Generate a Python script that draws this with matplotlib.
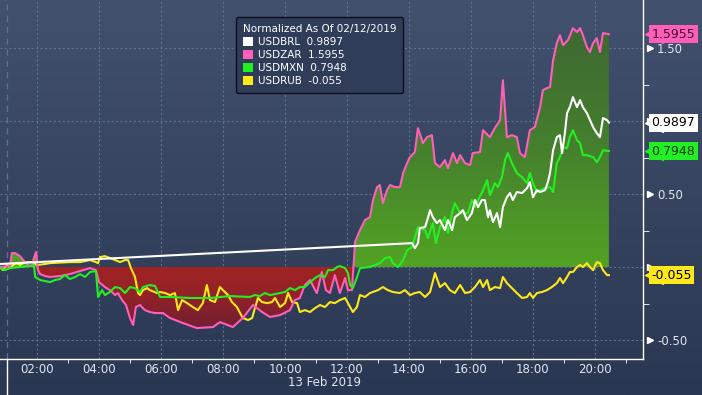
import numpy as np
import matplotlib.pyplot as plt
from matplotlib.patches import Patch
from matplotlib.colors import LinearSegmentedColormap
from matplotlib.transforms import blended_transform_factory, offset_copy

# normalized moves, 13 Feb 2019, x = hour of day
zar_t = [0.81, 1.13, 1.19, 1.29, 1.45, 1.61, 1.71, 1.84, 1.90, 1.97, 2.03, 2.10, 2.26, 2.42, 2.74,
         3.06, 3.39, 3.71, 3.90, 4.00, 4.19, 4.35, 4.52, 4.61, 4.74, 4.87, 5.00, 5.10, 5.19, 5.32,
         5.48, 5.64, 5.81, 6.06, 6.29, 6.71, 7.16, 7.68, 7.90, 8.32, 8.64, 8.97, 9.26, 9.52, 9.84,
         10.16, 10.32, 10.48, 10.64, 10.81, 10.97, 11.03, 11.19, 11.32, 11.45, 11.61, 11.77, 11.94,
         12.03, 12.16, 12.26, 12.35, 12.42, 12.58, 12.74, 12.84, 12.97, 13.06, 13.16, 13.29, 13.39,
         13.55, 13.71, 13.81, 13.94, 14.03, 14.19, 14.29, 14.45, 14.58, 14.74, 14.84, 15.00, 15.16,
         15.26, 15.42, 15.55, 15.65, 15.81, 15.97, 16.06, 16.29, 16.39, 16.61, 16.77, 16.94, 17.03,
         17.16, 17.32, 17.48, 17.58, 17.74, 17.90, 18.06, 18.23, 18.32, 18.45, 18.55, 18.65, 18.77,
         18.87, 18.97, 19.13, 19.29, 19.42, 19.52, 19.61, 19.74, 19.84, 19.94, 20.06, 20.16, 20.26,
         20.45]
zar = [0.000, 0.007, 0.096, 0.096, 0.075, 0.034, 0.014, 0.007, 0.062, 0.103, -0.021, -0.048, -0.062,
       -0.068, -0.062, -0.048, -0.027, -0.007, -0.021, -0.103, -0.137, -0.158, -0.192, -0.178, -0.226,
       -0.260, -0.349, -0.397, -0.274, -0.260, -0.295, -0.308, -0.315, -0.315, -0.349, -0.384, -0.418,
       -0.411, -0.377, -0.411, -0.349, -0.260, -0.308, -0.342, -0.329, -0.295, -0.226, -0.212, -0.123,
       -0.089, -0.158, -0.178, -0.034, -0.158, -0.178, -0.055, -0.178, -0.075, -0.158, -0.158, 0.171,
       0.219, 0.253, 0.322, 0.342, 0.459, 0.548, 0.562, 0.438, 0.527, 0.562, 0.548, 0.548, 0.644,
       0.712, 0.753, 0.788, 0.952, 0.849, 0.890, 0.904, 0.712, 0.685, 0.733, 0.678, 0.781, 0.712,
       0.767, 0.712, 0.699, 0.781, 0.788, 0.938, 0.890, 0.952, 1.007, 1.281, 0.890, 0.904, 0.890,
       0.781, 0.753, 0.938, 0.959, 1.096, 1.212, 1.226, 1.233, 1.418, 1.534, 1.589, 1.521, 1.555,
       1.637, 1.610, 1.637, 1.589, 1.507, 1.473, 1.534, 1.568, 1.473, 1.603, 1.5955]

mxn_t = [0.81, 0.97, 1.13, 1.45, 1.77, 1.90, 1.94, 2.10, 2.42, 2.58, 2.74, 2.90, 3.06, 3.23, 3.39,
         3.55, 3.71, 3.90, 3.97, 4.10, 4.19, 4.35, 4.52, 4.68, 4.84, 5.00, 5.16, 5.32, 5.42, 5.64,
         5.81, 5.97, 6.29, 6.94, 7.58, 8.23, 8.87, 9.03, 9.19, 9.35, 9.52, 9.84, 10.00, 10.16, 10.32,
         10.48, 10.64, 10.81, 10.97, 11.13, 11.29, 11.39, 11.55, 11.68, 11.77, 11.94, 12.03, 12.10,
         12.19, 12.29, 12.42, 12.74, 13.06, 13.23, 13.39, 13.48, 13.65, 13.81, 13.94, 14.10, 14.29,
         14.35, 14.52, 14.61, 14.77, 14.87, 15.00, 15.16, 15.26, 15.39, 15.48, 15.65, 15.90, 16.03,
         16.13, 16.23, 16.39, 16.52, 16.61, 16.77, 16.87, 17.00, 17.10, 17.19, 17.32, 17.48, 17.65,
         17.81, 17.90, 18.00, 18.13, 18.23, 18.39, 18.55, 18.65, 18.77, 18.87, 18.97, 19.10, 19.19,
         19.29, 19.42, 19.52, 19.61, 19.74, 19.94, 20.06, 20.16, 20.26, 20.45]
mxn = [-0.007, -0.021, -0.007, 0.000, 0.007, 0.014, -0.068, -0.089, -0.103, -0.089, -0.082, -0.055,
       -0.082, -0.068, -0.048, -0.068, -0.034, -0.027, -0.205, -0.158, -0.192, -0.171, -0.137, -0.144,
       -0.178, -0.137, -0.144, -0.171, -0.137, -0.123, -0.130, -0.205, -0.205, -0.212, -0.212, -0.199,
       -0.205, -0.192, -0.199, -0.178, -0.192, -0.178, -0.171, -0.144, -0.158, -0.137, -0.137, -0.103,
       -0.075, -0.055, -0.068, -0.021, -0.021, 0.000, 0.007, -0.007, -0.041, -0.123, -0.144, -0.089,
       -0.007, 0.000, 0.027, 0.062, 0.068, 0.027, 0.000, 0.048, 0.116, 0.137, 0.274, 0.267, 0.253,
       0.199, 0.301, 0.164, 0.274, 0.342, 0.233, 0.370, 0.438, 0.370, 0.370, 0.459, 0.411, 0.459,
       0.527, 0.596, 0.493, 0.575, 0.548, 0.616, 0.733, 0.781, 0.712, 0.644, 0.616, 0.575, 0.644,
       0.575, 0.514, 0.527, 0.541, 0.548, 0.514, 0.712, 0.753, 0.822, 0.815, 0.890, 0.938, 0.870,
       0.849, 0.767, 0.767, 0.753, 0.719, 0.753, 0.801, 0.7948]

brl_t = [0.81, 14.10, 14.19, 14.29, 14.35, 14.52, 14.61, 14.68, 14.77, 14.90, 15.00, 15.16, 15.26,
         15.39, 15.48, 15.65, 15.74, 15.87, 16.03, 16.13, 16.23, 16.35, 16.45, 16.55, 16.61, 16.71,
         16.84, 16.94, 17.03, 17.16, 17.26, 17.35, 17.48, 17.65, 17.81, 17.90, 18.00, 18.13, 18.23,
         18.39, 18.48, 18.55, 18.65, 18.77, 18.87, 18.94, 19.03, 19.10, 19.19, 19.29, 19.42, 19.52,
         19.61, 19.74, 19.84, 19.94, 20.06, 20.16, 20.26, 20.39, 20.45]
brl = [0.021, 0.164, 0.130, 0.164, 0.267, 0.274, 0.336, 0.390, 0.342, 0.301, 0.322, 0.253, 0.322,
       0.253, 0.342, 0.370, 0.390, 0.322, 0.370, 0.459, 0.411, 0.459, 0.459, 0.342, 0.390, 0.308,
       0.370, 0.274, 0.411, 0.479, 0.507, 0.459, 0.514, 0.507, 0.541, 0.582, 0.479, 0.527, 0.514,
       0.527, 0.582, 0.644, 0.801, 0.890, 0.904, 0.781, 0.918, 1.055, 1.096, 1.164, 1.096, 1.144,
       1.096, 1.055, 1.007, 0.959, 0.918, 0.890, 1.021, 1.007, 0.9897]

rub_t = [0.81, 0.90, 1.03, 1.13, 1.23, 1.35, 1.45, 1.61, 1.87, 2.00, 2.26, 2.42, 3.06, 3.39, 3.71,
         3.90, 3.97, 4.03, 4.19, 4.35, 4.52, 4.68, 4.84, 4.94, 5.03, 5.16, 5.26, 5.32, 5.42, 5.55,
         5.64, 5.87, 5.97, 6.13, 6.29, 6.45, 6.55, 6.68, 6.84, 7.03, 7.19, 7.35, 7.48, 7.58, 7.74,
         7.90, 8.00, 8.16, 8.29, 8.45, 8.55, 8.64, 8.81, 8.94, 9.03, 9.13, 9.26, 9.42, 9.58, 9.68,
         9.84, 10.00, 10.10, 10.23, 10.39, 10.48, 10.64, 10.81, 10.97, 11.13, 11.29, 11.45, 11.61,
         11.77, 11.94, 12.10, 12.19, 12.32, 12.42, 12.58, 12.74, 13.00, 13.16, 13.32, 13.48, 13.71,
         13.87, 14.03, 14.19, 14.35, 14.52, 14.68, 14.84, 15.00, 15.16, 15.32, 15.48, 15.65, 15.81,
         15.97, 16.13, 16.29, 16.39, 16.52, 16.61, 16.77, 16.94, 17.03, 17.16, 17.32, 17.48, 17.65,
         17.81, 17.90, 18.00, 18.13, 18.29, 18.45, 18.61, 18.77, 18.87, 18.97, 19.10, 19.19, 19.29,
         19.42, 19.52, 19.61, 19.74, 19.84, 19.94, 20.06, 20.16, 20.26, 20.39, 20.45]
rub = [0.000, -0.021, 0.014, -0.007, 0.014, 0.027, 0.014, 0.034, 0.034, 0.014, 0.021, 0.027, 0.034,
       0.034, 0.048, 0.034, 0.027, 0.068, 0.075, 0.062, 0.048, 0.034, 0.048, 0.048, -0.007, -0.068,
       -0.178, -0.192, -0.158, -0.144, -0.158, -0.178, -0.171, -0.178, -0.192, -0.178, -0.295, -0.226,
       -0.247, -0.274, -0.295, -0.247, -0.123, -0.226, -0.240, -0.137, -0.158, -0.192, -0.240, -0.274,
       -0.315, -0.349, -0.363, -0.349, -0.281, -0.212, -0.240, -0.247, -0.240, -0.212, -0.274, -0.247,
       -0.178, -0.240, -0.247, -0.308, -0.295, -0.308, -0.281, -0.260, -0.274, -0.240, -0.247, -0.226,
       -0.212, -0.274, -0.308, -0.274, -0.192, -0.205, -0.178, -0.158, -0.137, -0.158, -0.171, -0.178,
       -0.158, -0.192, -0.178, -0.171, -0.205, -0.171, -0.041, -0.137, -0.110, -0.158, -0.178, -0.123,
       -0.178, -0.171, -0.137, -0.089, -0.137, -0.089, -0.158, -0.137, -0.144, -0.068, -0.110, -0.144,
       -0.178, -0.212, -0.205, -0.178, -0.212, -0.178, -0.171, -0.158, -0.137, -0.110, -0.075, -0.110,
       -0.068, -0.034, -0.034, 0.000, 0.014, 0.000, 0.027, 0.000, -0.021, 0.034, 0.027, -0.021, -0.055,
       -0.055]

names = ['USDBRL', 'USDZAR', 'USDMXN', 'USDRUB']
last_txt = ['0.9897', '1.5955', '0.7948', '-0.055']
colors = ['#ffffff', '#ff5fb8', '#22f022', '#ffe81a']
hour_ticks = list(range(2, 21, 2))
y_major = [-0.5, 0, 0.5, 1.0, 1.5]
y_labels = ['-0.50', '', '0.50', '', '1.50']   # 0.00 and 1.00 sit under the value tags

x0, x1 = 0.806, 21.55
y0, y1 = -0.63, 1.83
txt_col = '#e2e6ee'
grid_col = '#5a7294'

plt.rcParams['font.family'] = ['DejaVu Sans']

fig = plt.figure(figsize=(7.02, 3.95), dpi=100)

# background gradient over the whole figure
bg = fig.add_axes([0, 0, 1, 1], zorder=-10)
bg_cmap = LinearSegmentedColormap.from_list('bg', ['#42516e', '#2a3752'])
bg.imshow(np.linspace(0, 1, 256).reshape(-1, 1), cmap=bg_cmap, aspect='auto', extent=[0, 1, 0, 1])
bg.axis('off')

ax = fig.add_axes([0, 36 / 395, 643 / 702, 359 / 395])
ax.patch.set_alpha(0)

# ZAR area, green above zero, red below, both with vertical gradient
area = ax.fill_between(zar_t, zar, 0, facecolor='none', edgecolor='none')
clip = area.get_paths()[0]
green = LinearSegmentedColormap.from_list('g', ['#52a324', '#457f2e', '#3e6633'])
red = LinearSegmentedColormap.from_list('r', ['#6c1f35', '#8e2229', '#a22323'])
g = ax.imshow(np.linspace(0, 1, 256).reshape(-1, 1), cmap=green, origin='lower', aspect='auto',
              extent=[zar_t[0], zar_t[-1], 0, 1.7], zorder=1)
g.set_clip_path(clip, transform=ax.transData)
r = ax.imshow(np.linspace(0, 1, 256).reshape(-1, 1), cmap=red, origin='lower', aspect='auto',
              extent=[zar_t[0], zar_t[-1], -0.45, 0], zorder=1)
r.set_clip_path(clip, transform=ax.transData)

ax.plot(rub_t, rub, color=colors[3], lw=1.5, zorder=3)
ax.plot(zar_t, zar, color=colors[1], lw=1.5, zorder=3)
ax.plot(mxn_t, mxn, color=colors[2], lw=1.5, zorder=3)
ax.plot(brl_t, brl, color=colors[0], lw=1.5, zorder=3)

ax.set_xlim(x0, x1)
ax.set_ylim(y0, y1)

# day separator
ax.axvline(1.03, color=grid_col, lw=0.9, ls=(0, (5, 4)), zorder=0.5)
sep = blended_transform_factory(ax.transData, ax.transAxes)
ax.plot([1.03, 1.03], [0, -0.11], color='white', lw=1, transform=sep, clip_on=False)

ax.set_xticks(hour_ticks)
ax.set_xticklabels(['%02d:00' % h for h in hour_ticks])
ax.set_xticks(list(range(3, 22, 2)), minor=True)
ax.tick_params(axis='x', which='major', length=0, pad=3, labelsize=8.5, labelcolor=txt_col)
ax.tick_params(axis='x', which='minor', length=3, color='white', direction='out')

ax.yaxis.tick_right()
ax.set_yticks(y_major)
ax.set_yticklabels(y_labels)
ax.set_yticks([-0.25, 0.25, 0.75, 1.25], minor=True)
ax.tick_params(axis='y', which='major', length=0, pad=10, labelsize=8.5, labelcolor=txt_col)
ax.tick_params(axis='y', which='minor', length=4, color='white', direction='out')

ax.grid(which='major', color=grid_col, lw=0.8, ls=(0, (2, 2)))
ax.set_axisbelow(True)
for s in ['left', 'top']:
    ax.spines[s].set_visible(False)
for s in ['right', 'bottom']:
    ax.spines[s].set_color('white')
    ax.spines[s].set_linewidth(1)

# small triangles next to the major y labels
ytr = blended_transform_factory(ax.transAxes, ax.transData)
ax.plot([1.0] * len(y_major), y_major, ls='none', marker='>', ms=4.5, color='white',
        transform=offset_copy(ytr, fig=fig, x=5, units='points'), clip_on=False)

# last value tags
tag_txt = ['#000000', '#3a0a2c', '#063806', '#000000']
last_val = [brl[-1], zar[-1], mxn[-1], rub[-1]]
for v, t, c, tc in zip(last_val, last_txt, colors, tag_txt):
    ax.plot([1.0], [v], ls='none', marker='<', ms=13, mfc=c, mec=c,
            transform=offset_copy(ytr, fig=fig, x=8, units='points'), clip_on=False, zorder=6)
    ax.text(1.0, v, t, ha='left', va='center', fontsize=9, color=tc, zorder=7, clip_on=False,
            transform=offset_copy(ytr, fig=fig, x=6, units='points'),
            bbox=dict(boxstyle='square,pad=0.2', fc=c, ec='none'))

handles = [Patch(facecolor=c, edgecolor='none') for c in colors]
labels = ['%s  %s' % (n, t) for n, t in zip(names, last_txt)]
leg = ax.legend(handles, labels, title='Normalized As Of 02/12/2019', loc='upper left',
                bbox_to_anchor=(236 / 643, 1 - 17 / 359), borderaxespad=0, fontsize=7.5,
                title_fontsize=7.5, alignment='left', frameon=True, fancybox=True,
                facecolor='#2f3d59', edgecolor='#0b101c', framealpha=1, labelcolor='white',
                handlelength=1.0, handleheight=1.0, handletextpad=0.5, labelspacing=0.28,
                borderpad=0.65)
leg.get_title().set_color('white')
leg.set_zorder(8)

fig.text(325 / 702, 1 - 383 / 395, '13 Feb 2019', ha='center', va='center', fontsize=8.5,
         color=txt_col)

fig.savefig('out.png', dpi=100)
